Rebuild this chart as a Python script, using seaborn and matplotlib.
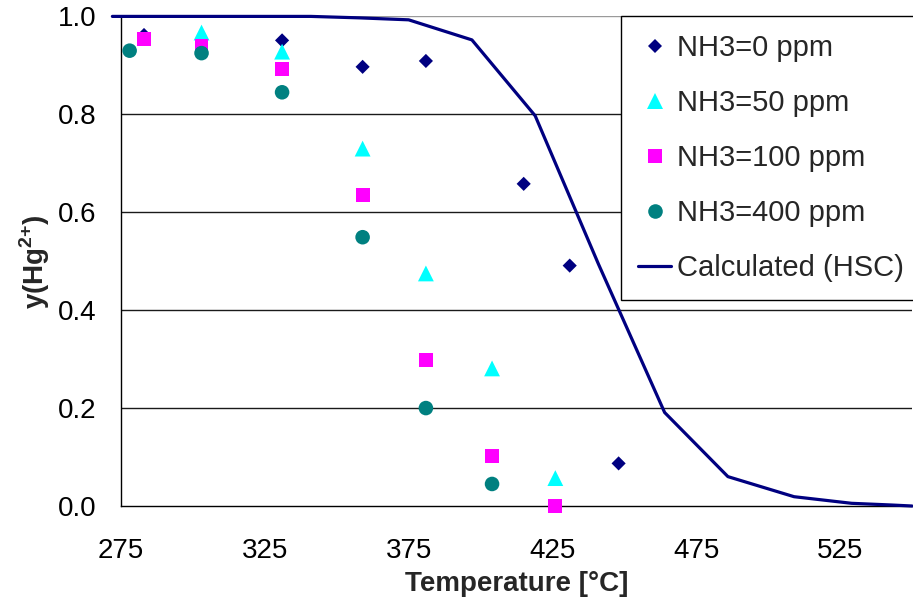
import matplotlib
matplotlib.use("Agg")
import matplotlib.pyplot as plt
import seaborn as sns
import pandas as pd
from matplotlib.lines import Line2D

# Measured fraction of oxidized mercury vs. temperature for several NH3 levels
t_nh3_0 = [283, 331, 359, 381, 415, 431, 448]
y_nh3_0 = [0.962, 0.951, 0.897, 0.909, 0.658, 0.491, 0.087]

t_nh3_50 = [303, 331, 359, 381, 404, 426]
y_nh3_50 = [0.967, 0.928, 0.730, 0.475, 0.281, 0.057]

t_nh3_100 = [283, 303, 331, 359, 381, 404, 426]
y_nh3_100 = [0.954, 0.940, 0.892, 0.635, 0.299, 0.102, 0.0]

t_nh3_400 = [278, 303, 331, 359, 381, 404]
y_nh3_400 = [0.930, 0.925, 0.845, 0.549, 0.200, 0.045]

# Equilibrium curve from HSC calculation
t_hsc = [272, 341, 358, 375, 397, 419, 441, 464, 486, 509, 529, 543, 550]
y_hsc = [1.0, 1.0, 0.997, 0.993, 0.952, 0.797, 0.494, 0.191, 0.060, 0.019, 0.0055, 0.002, 0.0]

series_labels = ["NH3=0 ppm", "NH3=50 ppm", "NH3=100 ppm", "NH3=400 ppm"]
line_label = "Calculated (HSC)"
x_ticks = [275, 325, 375, 425, 475, 525]
y_ticks = [0.0, 0.2, 0.4, 0.6, 0.8, 1.0]

sns.set_theme(style="white")
plt.rcParams["font.family"] = ["Liberation Sans", "DejaVu Sans"]
plt.rcParams["mathtext.fontset"] = "custom"
plt.rcParams["mathtext.rm"] = "Liberation Sans"
plt.rcParams["mathtext.bf"] = "Liberation Sans:bold"

frames = []
for lab, t, y in zip(series_labels,
                     [t_nh3_0, t_nh3_50, t_nh3_100, t_nh3_400],
                     [y_nh3_0, y_nh3_50, y_nh3_100, y_nh3_400]):
    frames.append(pd.DataFrame({"T": t, "y": y, "series": lab}))
df = pd.concat(frames, ignore_index=True)
df_hsc = pd.DataFrame({"T": t_hsc, "y": y_hsc})

colors = {"NH3=0 ppm": "#000080", "NH3=50 ppm": "#00FFFF",
          "NH3=100 ppm": "#FF00FF", "NH3=400 ppm": "#008080"}
markers = {"NH3=0 ppm": "D", "NH3=50 ppm": "^",
           "NH3=100 ppm": "s", "NH3=400 ppm": "o"}
sizes = {"NH3=0 ppm": 52, "NH3=50 ppm": 130, "NH3=100 ppm": 100, "NH3=400 ppm": 110}

fig = plt.figure(figsize=(9.13, 6.10), dpi=100)
ax = fig.add_axes([121 / 913, 104 / 610, 791 / 913, 489.6 / 610])

# gridlines beneath the data
for yv in y_ticks[1:-1]:
    ax.axhline(yv, color="#1a1a1a", lw=1.0, zorder=0)
ax.axhline(y_ticks[-1], color="#9a9a9a", lw=1.0, zorder=0)

for lab in series_labels:
    sub = df[df["series"] == lab]
    sns.scatterplot(data=sub, x="T", y="y", ax=ax, color=colors[lab],
                    marker=markers[lab], s=sizes[lab], edgecolor="none",
                    linewidth=0, zorder=3, clip_on=False, legend=False)

sns.lineplot(data=df_hsc, x="T", y="y", ax=ax, color="#000080", lw=2.3,
             zorder=4, legend=False, clip_on=False)

ax.set_xlim(275, 550)
ax.set_ylim(0, 1.0)
ax.set_xticks(x_ticks)
ax.set_yticks(y_ticks)
ax.set_yticklabels([f"{v:.1f}" for v in y_ticks])

for side in ["top", "right"]:
    ax.spines[side].set_visible(False)
for side in ["left", "bottom"]:
    ax.spines[side].set_color("black")
    ax.spines[side].set_linewidth(1.0)

ax.tick_params(axis="both", direction="out", length=7, width=1.0,
               color="black", labelsize=20, labelcolor="black")
ax.tick_params(axis="x", pad=16)
ax.tick_params(axis="y", pad=11)

ax.set_xlabel("Temperature [°C]", fontsize=20, fontweight="bold", labelpad=5)
ax.set_ylabel(r"y(Hg$^{\mathbf{2{+}}}$)", fontsize=20, fontweight="bold", labelpad=4)

handles = [Line2D([], [], ls="none", marker=markers[l], color=colors[l],
                  markersize=m, markeredgewidth=0)
           for l, m in zip(series_labels, [7.0, 11.0, 10.0, 10.5])]
handles.append(Line2D([], [], color="#000080", lw=2.3))
leg = ax.legend(handles, series_labels + [line_label], loc="upper right",
                bbox_to_anchor=(1.012, 1.0), borderaxespad=0, fontsize=21,
                frameon=True, fancybox=False, framealpha=1, edgecolor="black",
                labelspacing=0.93, handlelength=1.13, handletextpad=0.2,
                borderpad=0.6)
leg.get_frame().set_linewidth(1.0)
leg.set_zorder(10)

fig.savefig("out.png", dpi=100)
